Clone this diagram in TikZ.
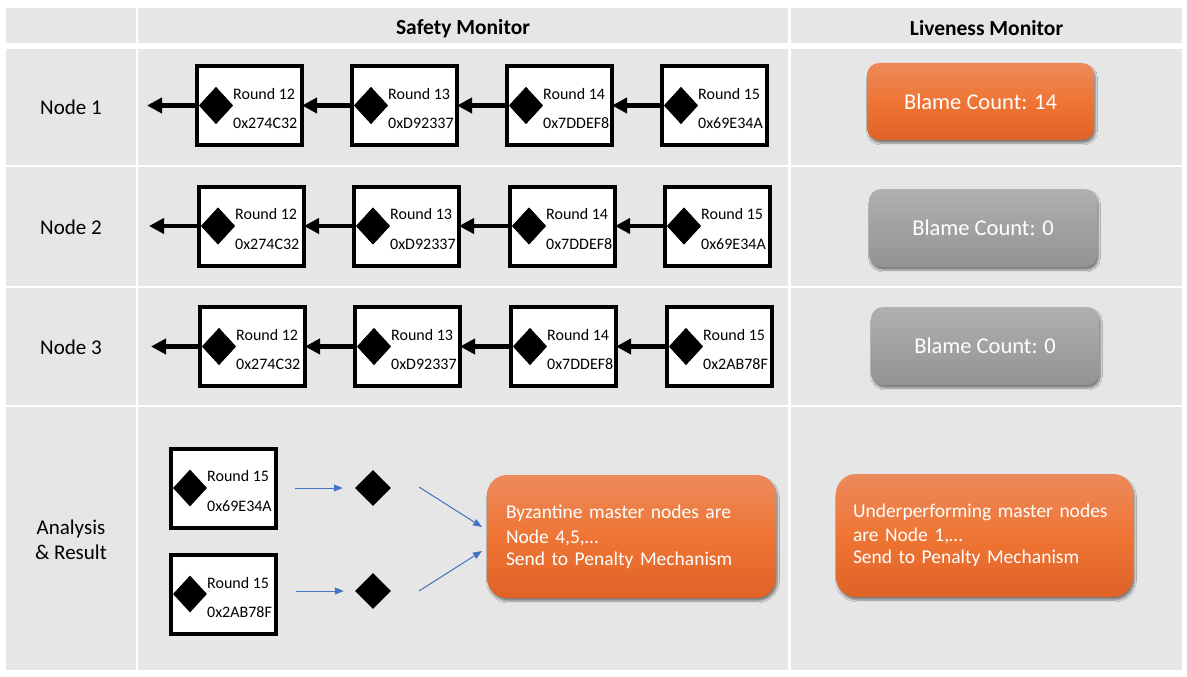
\documentclass[tikz,border=0pt]{standalone}
\usepackage{fontspec}
\setmainfont{Carlito}
\usetikzlibrary{arrows.meta,shapes.geometric,shadows.blur,calc}
\definecolor{cellgray}{HTML}{E7E6E6}
\definecolor{orTop}{HTML}{EC8A5C}
\definecolor{orMid}{HTML}{EF7534}
\definecolor{orBot}{HTML}{DF6227}
\definecolor{grTop}{HTML}{B0B0B0}
\definecolor{grBot}{HTML}{939393}
\definecolor{arrowblue}{HTML}{4472C4}
\newcommand\roundblock[5]{%
  \node[blockbox] (#1) at (#2+54.5,#3) {};
  \node[blockdia] (#1d) at (#2+21,#3) {};
  \node[blocktxt] (#1r) at (#2+38,#3-11.5) {Round #4};
  \node[blocktxt] (#1h) at (#2+38,#3+18) {#5};
}
\begin{document}
\begin{tikzpicture}[x=1pt,y=-1pt,
  cell/.style={fill=cellgray,draw=none},
  blockbox/.style={draw=black,line width=4pt,fill=white,minimum width=105pt,minimum height=79pt,inner sep=0pt},
  blockdia/.style={diamond,fill=black,minimum width=34pt,minimum height=37pt,inner sep=0pt},
  blocktxt/.style={anchor=west,inner sep=0pt,font=\fontsize{16}{19}\selectfont},
  chainarrow/.style={line width=4.5pt,-{Triangle[length=15pt,width=15pt]}},
  rowlabel/.style={font=\fontsize{21}{25}\selectfont,align=center},
  headlabel/.style={font=\fontsize{21.5}{25}\selectfont\bfseries},
  softshadow/.style={blur shadow={shadow xshift=1.5pt,shadow yshift=-3pt,shadow blur steps=6,shadow opacity=45}},
  orangefill/.style={top color=orTop,bottom color=orBot,middle color=orMid},
  grayfill/.style={top color=grTop,bottom color=grBot},
  blamebox/.style={rounded corners=12pt,minimum width=227pt,minimum height=77pt,text=white,font=\fontsize{22.5}{26}\selectfont,softshadow},
  resultbox/.style={rounded corners=20pt,orangefill,text=white,align=left,font=\fontsize{19.5}{22}\selectfont,softshadow,minimum height=123pt,inner ysep=0pt},
  bluearrow/.style={draw=arrowblue,line width=1pt,-{Triangle[length=9pt,width=7pt]}}
]
\useasboundingbox (0,0) rectangle (1187,677);
\fill[white] (0,0) rectangle (1187,677);
% table cells
\fill[cell] (6,8) rectangle (136,43);
\fill[cell] (138,8) rectangle (788,43);
\fill[cell] (791,8) rectangle (1182,43);
\foreach \ya/\yb in {49/165,167/286,288/405,407/670}{
  \fill[cell] (6,\ya) rectangle (136,\yb);
  \fill[cell] (138,\ya) rectangle (788,\yb);
  \fill[cell] (791,\ya) rectangle (1182,\yb);
}
% headers
\node[headlabel] (hsafe) at (463,28.5) {Safety Monitor};
\node[headlabel] (hlive) at (986.5,28.5) {Liveness Monitor};
% row labels
\node[rowlabel] (n1) at (71,107) {Node 1};
\node[rowlabel] (n2) at (71,227) {Node 2};
\node[rowlabel] (n3) at (71,347) {Node 3};
\node[rowlabel] (nar) at (71,540) {Analysis\\\& Result};
% row 1
\roundblock{ra1}{195}{105.5}{12}{0x274C32}
\roundblock{ra2}{350}{105.5}{13}{0xD92337}
\roundblock{ra3}{505}{105.5}{14}{0x7DDEF8}
\roundblock{ra4}{660}{105.5}{15}{0x69E34A}
\coordinate (ratip) at (147,105.5);
% row 2
\roundblock{rb1}{197}{226}{12}{0x274C32}
\roundblock{rb2}{352}{226}{13}{0xD92337}
\roundblock{rb3}{508}{226}{14}{0x7DDEF8}
\roundblock{rb4}{663}{226}{15}{0x69E34A}
\coordinate (rbtip) at (149,226);
% row 3
\roundblock{rc1}{198}{346.5}{12}{0x274C32}
\roundblock{rc2}{353}{346.5}{13}{0xD92337}
\roundblock{rc3}{509}{346.5}{14}{0x7DDEF8}
\roundblock{rc4}{665}{346.5}{15}{0x2AB78F}
\coordinate (rctip) at (151,346.5);
% chain arrows
\foreach \r in {ra,rb,rc}{
  \draw[chainarrow] (\r1.west) -- (\r tip);
  \draw[chainarrow,shorten >=-2pt] (\r2.west) -- (\r1.east);
  \draw[chainarrow,shorten >=-2pt] (\r3.west) -- (\r2.east);
  \draw[chainarrow,shorten >=-2pt] (\r4.west) -- (\r3.east);
  \node[blockdia] at (\r1d) {};
  \node[blockdia] at (\r2d) {};
  \node[blockdia] at (\r3d) {};
  \node[blockdia] at (\r4d) {};
}
% blame counts
\node[blamebox,orangefill] (bl1) at (980.5,101.5) {Blame Count: 14};
\node[blamebox,grayfill,minimum width=228pt,minimum height=78pt] (bl2) at (983,228) {Blame Count: 0};
\node[blamebox,grayfill,minimum width=228pt,minimum height=78pt] (bl3) at (985,346) {Blame Count: 0};
% analysis
\roundblock{an1}{169}{488}{15}{0x69E34A}
\roundblock{an2}{169}{594}{15}{0x2AB78F}
\node[blockdia,minimum width=36pt,minimum height=36pt] (sd1) at (373,488) {};
\node[blockdia,minimum width=36pt,minimum height=36pt] (sd2) at (373,591) {};
\draw[bluearrow,shorten <=17pt,shorten >=12pt] (an1.east) -- (sd1.west);
\draw[bluearrow,shorten <=18pt,shorten >=11pt] (an2.east |- sd2) -- (sd2.west);
\node[resultbox,text width=251pt,inner xsep=19pt] (resA) at (631.5,536.5)
  {Byzantine master nodes are\\[3pt]Node 4,5,…\\Send to Penalty Mechanism};
\node[resultbox,text width=263pt,inner xsep=17pt] (resB) at (984.5,535.5)
  {Underperforming master nodes\\[2pt]are Node 1,…\\Send to Penalty Mechanism};
\coordinate (dga) at (419,487);
\coordinate (dgb) at (482,527);
\coordinate (dgc) at (419,591);
\coordinate (dgd) at (482,551);
\draw[bluearrow] (dga) -- (dgb);
\draw[bluearrow] (dgc) -- (dgd);
\end{tikzpicture}
\end{document}
